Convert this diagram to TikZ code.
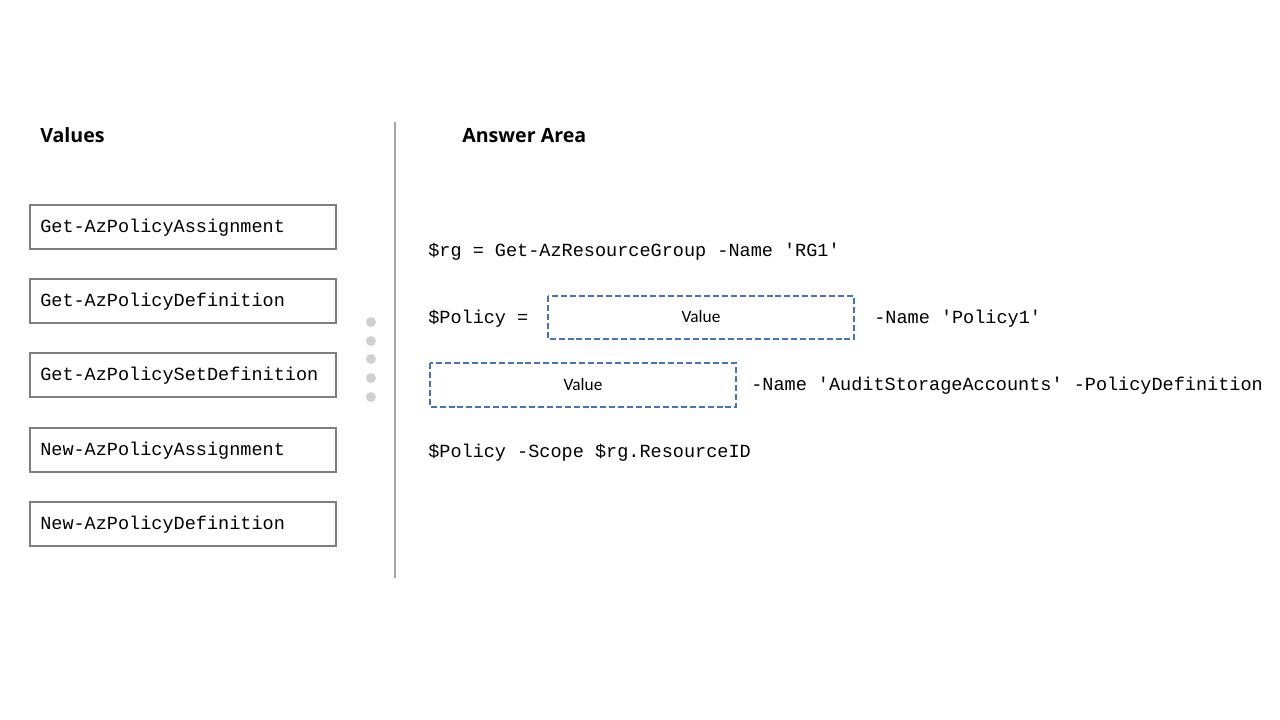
\documentclass[tikz,border=0pt]{standalone}
\usepackage{fontspec}
\setmainfont{Carlito}
\newfontfamily\monof{Liberation Mono}
\newfontfamily\headf{Open Sans}
\definecolor{boxgray}{HTML}{7F7F7F}
\definecolor{divgray}{HTML}{A6A6A6}
\definecolor{dotgray}{HTML}{D0D0D0}
\definecolor{dashblue}{HTML}{4472C4}
\begin{document}
\begin{tikzpicture}[x=0.75pt,y=-0.75pt,
  heading/.style={anchor=base west,inner sep=0pt,font=\headf\bfseries\fontsize{14.7pt}{17pt}\selectfont},
  mono/.style={anchor=base west,inner sep=0pt,font=\monof\fontsize{13.9pt}{16pt}\selectfont},
  valbox/.style={draw=boxgray,line width=1.6pt,fill=white},
  ansbox/.style={draw=dashblue,line width=1.6pt,dash pattern=on 4.5pt off 2.2pt},
  boxlabel/.style={anchor=base,inner sep=0pt,font=\fontsize{13pt}{15pt}\selectfont},
  dot/.style={circle,fill=dotgray,inner sep=0pt,minimum size=7.5pt}]
\useasboundingbox (0,0) rectangle (1280,720);
\fill[white] (0,0) rectangle (1280,720);
% headings
\node[heading] (hval) at (40,143) {Values};
\node[heading] (hans) at (462,143) {Answer Area};
% divider
\coordinate (dtop) at (395,122);
\coordinate (dbot) at (395,578);
\draw[divgray,line width=1.5pt] (dtop) -- (dbot);
% value boxes
\foreach \y/\t/\n in {205/Get-AzPolicyAssignment/v1,279/Get-AzPolicyDefinition/v2,353/Get-AzPolicySetDefinition/v3,428/New-AzPolicyAssignment/v4,502/New-AzPolicyDefinition/v5}{
  \draw[valbox] (30,\y) rectangle (336,\y+44);
  \node[mono] (\n) at (40,\y+27.5) {\t};
}
% dots
\foreach \y/\n in {322/d1,341/d2,359/d3,378/d4,397/d5}{
  \node[dot] (\n) at (371,\y) {};
}
% answer area
\node[mono] (l1) at (428,256) {\$rg = Get-AzResourceGroup -Name 'RG1'};
\node[mono] (l2) at (428,323) {\$Policy =};
\draw[ansbox] (548,296) rectangle (854,339);
\node[boxlabel] (b1) at (701,322.5) {Value};
\node[mono] (l2b) at (874,323) {-Name 'Policy1'};
\draw[ansbox] (430,363) rectangle (736,407);
\node[boxlabel] (b2) at (583,390) {Value};
\node[mono] (l3) at (751,390) {-Name 'AuditStorageAccounts' -PolicyDefinition};
\node[mono] (l4) at (428,457) {\$Policy -Scope \$rg.ResourceID};
\end{tikzpicture}
\end{document}
